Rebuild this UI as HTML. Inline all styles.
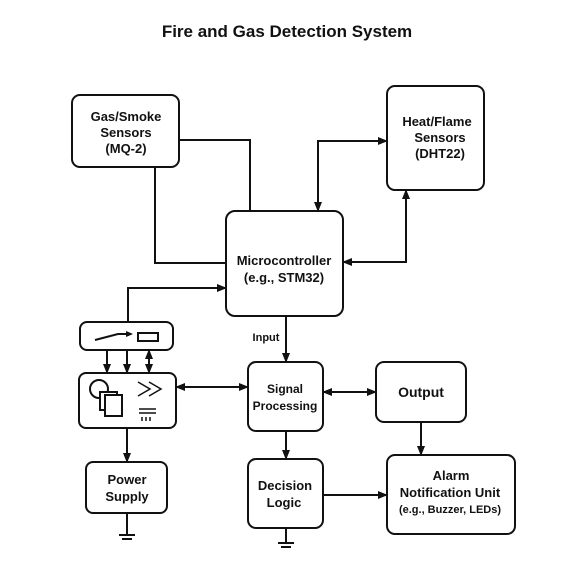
<!DOCTYPE html><html><head><style>body{margin:0;background:#fff}svg text{font-family:"Liberation Sans",sans-serif;font-weight:bold;fill:#111;text-anchor:middle}</style></head><body>
<svg width="574" height="574" viewBox="0 0 574 574" xmlns="http://www.w3.org/2000/svg">
<defs><marker id="a" markerWidth="10" markerHeight="8" refX="9" refY="4" orient="auto-start-reverse" markerUnits="userSpaceOnUse"><path d="M0,0L10,4L0,8z" fill="#111"/></marker></defs>
<text x="287" y="37" font-size="17">Fire and Gas Detection System</text>
<g fill="none" stroke="#111" stroke-width="2">
<rect x="72" y="95" width="107" height="72" rx="8"/>
<rect x="387" y="86" width="97" height="104" rx="8"/>
<rect x="226" y="211" width="117" height="105" rx="9"/>
<rect x="80" y="322" width="93" height="28" rx="7"/>
<rect x="79" y="373" width="97" height="55" rx="7"/>
<rect x="86" y="462" width="81" height="51" rx="7"/>
<rect x="248" y="362" width="75" height="69" rx="8"/>
<rect x="376" y="362" width="90" height="60" rx="8"/>
<rect x="248" y="459" width="75" height="69" rx="8"/>
<rect x="387" y="455" width="128" height="79" rx="8"/>
<path d="M179,140H250V211"/>
<path d="M155,167V263H226"/>
<path d="M128,322V288H226" marker-end="url(#a)"/>
<path d="M387,141H318V211" marker-start="url(#a)" marker-end="url(#a)"/>
<path d="M343,262H406V190" marker-start="url(#a)" marker-end="url(#a)"/>
<path d="M286,316V362" marker-end="url(#a)"/>
<path d="M176,387H248" marker-start="url(#a)" marker-end="url(#a)"/>
<path d="M323,392H376" marker-start="url(#a)" marker-end="url(#a)"/>
<path d="M421,422V455" marker-end="url(#a)"/>
<path d="M286,431V459" marker-end="url(#a)"/>
<path d="M323,495H387" marker-end="url(#a)"/>
<path d="M107,350V373" marker-end="url(#a)"/>
<path d="M127,350V373" marker-end="url(#a)"/>
<path d="M149,350V373" marker-start="url(#a)" marker-end="url(#a)"/>
<path d="M127,428V462" marker-end="url(#a)"/>
<path d="M127,513V535M119,535H135M122,539H132M286,528V543M278,543H294M281,547H291" />
<path d="M95,340L118,334H126" />
<rect x="138" y="333" width="20" height="8"/>
<circle cx="99" cy="389" r="9"/>
<rect x="100" y="392" width="17" height="18" fill="#fff"/>
<rect x="105" y="395" width="17" height="21" fill="#fff"/>
<path d="M138,382L150,389L138,396M149,382L161,389L149,396M139,409H156M139,413H156M142,417V421M146,417V421M150,417V421" stroke-width="1.5"/>
</g>
<path d="M126,331L133,334L126,337z" fill="#111"/>
<text x="126" y="121" font-size="13">Gas/Smoke</text>
<text x="126" y="137" font-size="13">Sensors</text>
<text x="126" y="153" font-size="13">(MQ-2)</text>
<text x="437" y="126" font-size="13">Heat/Flame</text>
<text x="440" y="142" font-size="13">Sensors</text>
<text x="440" y="158" font-size="13">(DHT22)</text>
<text x="284" y="265" font-size="13">Microcontroller</text>
<text x="284" y="282" font-size="13">(e.g., STM32)</text>
<text x="266" y="341" font-size="11">Input</text>
<text x="285" y="393" font-size="12">Signal</text>
<text x="285" y="410" font-size="12">Processing</text>
<text x="421" y="397" font-size="14">Output</text>
<text x="285" y="490" font-size="13">Decision</text>
<text x="284" y="507" font-size="13">Logic</text>
<text x="451" y="480" font-size="13">Alarm</text>
<text x="450" y="497" font-size="13">Notification Unit</text>
<text x="450" y="513" font-size="11">(e.g., Buzzer, LEDs)</text>
<text x="127" y="484" font-size="13">Power</text>
<text x="127" y="501" font-size="13">Supply</text>
</svg></body></html>
